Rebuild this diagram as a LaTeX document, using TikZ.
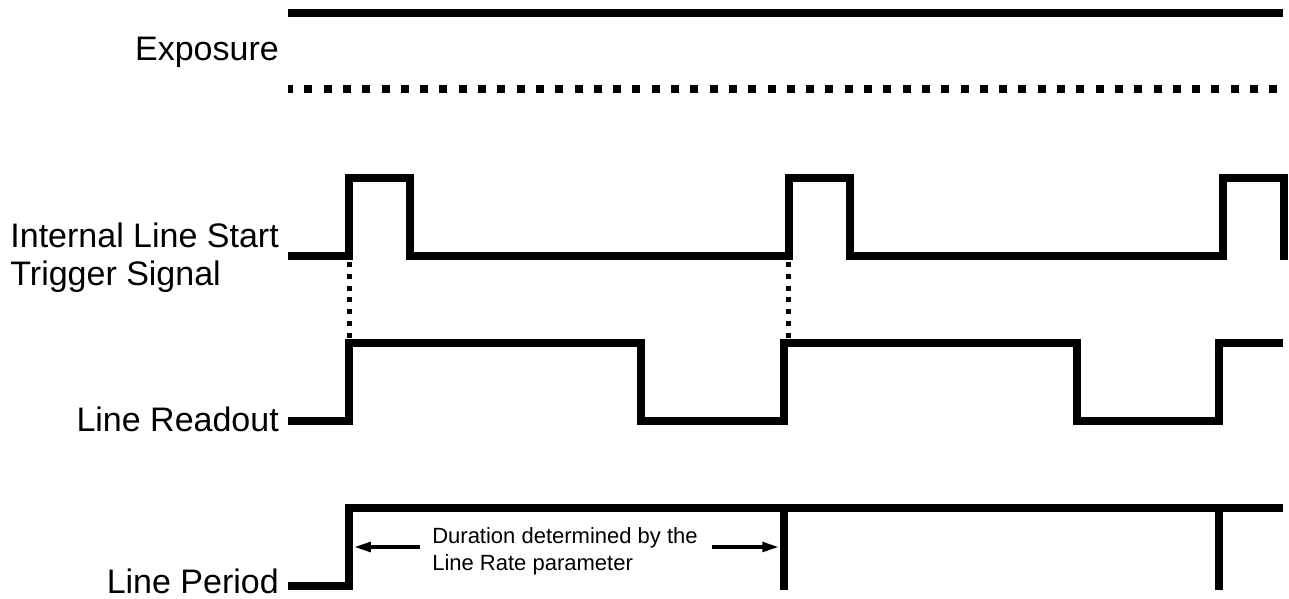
\documentclass[tikz,border=0pt]{standalone}
\usepackage{fontspec}
\setmainfont{Liberation Sans}
\usepackage{tikz}
\usetikzlibrary{calc, positioning}
\usetikzlibrary{arrows.meta}
\tikzset{>=stealth}
\usepackage{xcolor}
\definecolor{sigblack}{HTML}{000000}

\begin{document}
\begin{tikzpicture}[x=1pt, y=-1pt,
		sig/.style={line width=7.5pt, sigblack},
		sigdots/.style={line width=8pt, sigblack, dash pattern=on 8pt off 11.3pt, dash phase=3pt},
		syncdots/.style={line width=5pt, sigblack, dash pattern=on 5pt off 6.8pt},
		durarrow/.style={line width=4.5pt, sigblack, -{Triangle[length=18pt, width=9pt]}},
		lbl/.style={inner sep=0pt, font=\fontsize{34}{38}\selectfont},
		durlbl/.style={inner sep=0pt, align=left, font=\fontsize{22}{27}\selectfont}]
		\useasboundingbox (0,0) rectangle (1289,599);
		% labels
		\node[lbl, anchor=base east] (lblexp) at (279,61) {Exposure};
		\node[lbl, anchor=north east, align=left] (lbltrig) at (279,223) {Internal Line Start\\Trigger Signal};
		\node[lbl, anchor=base east] (lblread) at (279,431) {Line Readout};
		\node[lbl, anchor=base east] (lblper) at (279,593) {Line Period};
		% exposure
		\draw [sig] (288,13) -- (1283,13);
		\draw [sigdots] (288,89) -- (1283,89);
		% trigger
		\draw [sig] (288,256) -- (349,256) -- (349,178) -- (410,178) -- (410,256) -- (789,256) -- (789,178) -- (850,178) -- (850,256) -- (1223,256) -- (1223,178) -- (1284,178) -- (1284,260);
		\draw [syncdots] (349,262) -- (349,340);
		\draw [syncdots] (788,262) -- (788,340);
		% readout
		\draw [sig] (288,421) -- (349,421) -- (349,343) -- (641,343) -- (641,421) -- (784,421) -- (784,343) -- (1077,343) -- (1077,421) -- (1219,421) -- (1219,343) -- (1283,343);
		% period
		\coordinate (per0) at (349,508);
		\coordinate (per1) at (784,508);
		\coordinate (per2) at (1219,508);
		\draw [sig] (288,586) -- (349,586) -- (per0) -- (1283,508);
		\draw [sig] (per1) -- (784,590);
		\draw [sig] (per2) -- (1219,590);
		\node[durlbl] (dur) at (565,551) {Duration determined by the\\Line Rate parameter};
		\coordinate (durL) at ($(dur.west)+(-12,-4)$);
		\coordinate (durR) at ($(dur.east)+(14,-4)$);
		\draw [durarrow, shorten >=3.75pt] (durL) -- (durL -| per0);
		\draw [durarrow, shorten >=3.75pt] (durR) -- (durR -| per1);
	\end{tikzpicture}
\end{document}
